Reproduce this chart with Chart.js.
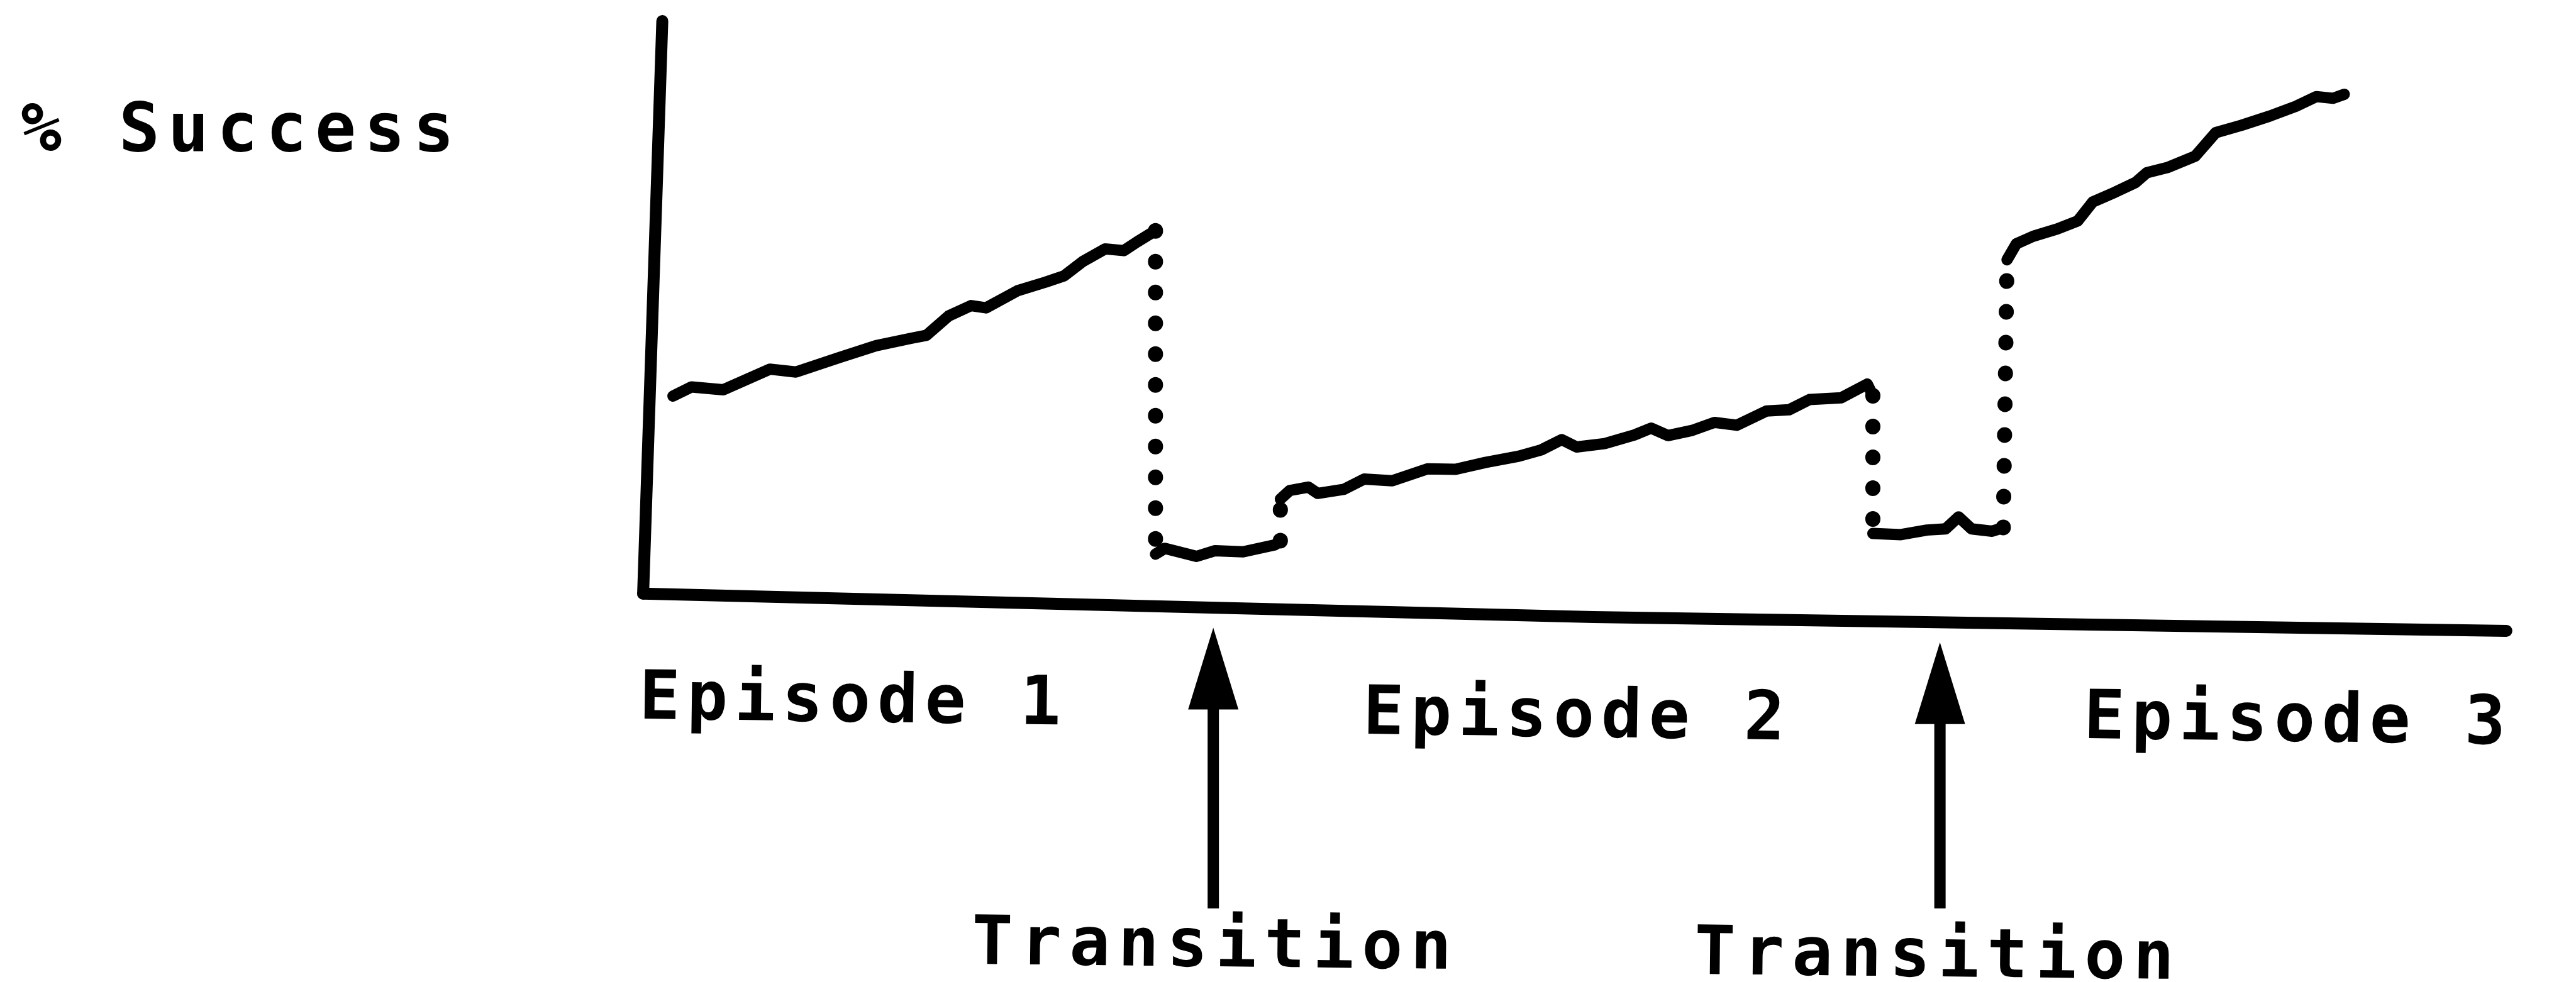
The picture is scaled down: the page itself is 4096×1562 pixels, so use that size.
<!DOCTYPE html>
<html>
<head>
<meta charset="utf-8">
<style>
  html, body { margin: 0; padding: 0; background: #fff; }
  canvas { display: block; }
</style>
</head>
<body>
<canvas id="exito" width="4096" height="1562"></canvas>
<script src="https://cdn.jsdelivr.net/npm/chart.js@4.4.0/dist/chart.umd.min.js"></script>
<script>
// x = trials along the axis (0-100), y = % success
const ep1Trial = [1.6, 2.6, 4.3, 6.8, 8.2, 10.5, 12.5, 14.4, 15.2, 16.4, 17.6, 18.4, 20.1, 21.6, 22.6, 23.6, 24.8, 25.8, 26.5, 27.5];
const ep1Success = [34.5, 36.1, 35.6, 39.2, 38.7, 41.2, 43.3, 44.6, 45.1, 48.5, 50.3, 49.9, 52.9, 54.4, 55.5, 58.0, 60.2, 59.9, 61.4, 63.4];

const trans1Trial = [27.5, 28.0, 29.7, 30.7, 32.2, 33.9, 34.2];
const trans1Success = [6.9, 7.9, 6.5, 7.5, 7.3, 8.5, 9.2];

const ep2Trial = [34.2, 34.7, 35.7, 36.2, 37.6, 38.7, 40.2, 42.1, 43.6, 45.2, 47.0, 48.2, 49.3, 50.1, 51.6, 53.2, 54.1, 55.0, 56.3, 57.5, 58.7, 60.3, 61.5, 62.6, 64.3, 65.7, 66.0];
const ep2Success = [16.5, 18.0, 18.6, 17.5, 18.2, 20.0, 19.7, 21.8, 21.7, 22.9, 24.0, 25.1, 26.9, 25.6, 26.2, 27.7, 28.9, 27.6, 28.5, 29.9, 29.4, 31.9, 32.1, 33.9, 34.2, 36.6, 34.6];

const trans2Trial = [66.0, 67.5, 68.9, 69.9, 70.6, 71.3, 72.4, 73.0];
const trans2Success = [10.5, 10.3, 11.1, 11.3, 13.4, 11.3, 10.9, 11.5];

const ep3Trial = [73.2, 73.7, 74.6, 75.9, 77.0, 77.8, 79.0, 80.1, 80.7, 81.8, 83.3, 84.4, 85.8, 87.3, 88.7, 89.8, 90.7, 91.3];
const ep3Success = [58.3, 61.1, 62.4, 63.7, 65.1, 68.4, 70.1, 71.8, 73.5, 74.4, 76.4, 80.5, 81.8, 83.4, 85.1, 86.8, 86.5, 87.2];

// hand drawn axes, a little off square
const axisXTrial = [0, 51, 100];
const axisXLevel = [0, -4.1, -6.5];
const axisYTrial = [0, 1.03];
const axisYLevel = [0, 100];

const yLabel = '% Success';
const episodeLabels = ['Episode 1', 'Episode 2', 'Episode 3'];
const transitionLabel = 'Transition';
const transitionTrials = [30.6, 69.6];

function puntos(xs, ys) {
    return xs.map((x, i) => ({ x: x, y: ys[i] }));
}

const tramos = [
    puntos(ep1Trial, ep1Success),
    puntos(trans1Trial, trans1Success),
    puntos(ep2Trial, ep2Success),
    puntos(trans2Trial, trans2Success),
    puntos(ep3Trial, ep3Success)
];

const trazo = {
    borderColor: '#000',
    backgroundColor: '#000',
    borderWidth: 18,
    borderCapStyle: 'round',
    borderJoinStyle: 'round',
    pointRadius: 0,
    fill: false,
    clip: false
};

let datasets = [];
datasets.push(Object.assign({ data: puntos(axisXTrial, axisXLevel), borderWidth: 19 }, trazo, { borderWidth: 19 }));
datasets.push(Object.assign({}, trazo, { data: puntos(axisYTrial, axisYLevel), borderWidth: 19 }));
tramos.forEach(t => datasets.push(Object.assign({}, trazo, { data: t })));
// dotted jumps between one stretch and the next
for (let i = 0; i < tramos.length - 1; i++) {
    const a = tramos[i][tramos[i].length - 1];
    const b = tramos[i + 1][0];
    datasets.push(Object.assign({}, trazo, { data: [a, b], borderWidth: 24, borderDash: [1, 48] }));
}

function nivelEje(t) {
    for (let i = 0; i < axisXTrial.length - 1; i++) {
        if (t <= axisXTrial[i + 1]) {
            const f = (t - axisXTrial[i]) / (axisXTrial[i + 1] - axisXTrial[i]);
            return axisXLevel[i] + f * (axisXLevel[i + 1] - axisXLevel[i]);
        }
    }
    return axisXLevel[axisXLevel.length - 1];
}

function espaciado(ctx, texto, x, y, paso) {
    for (let i = 0; i < texto.length; i++) {
        ctx.fillText(texto[i], x + i * paso, y);
    }
}

const rotulos = {
    id: 'rotulos',
    afterDraw(chart) {
        const ctx = chart.ctx;
        const xs = chart.scales.x;
        const ys = chart.scales.y;
        ctx.save();
        ctx.fillStyle = '#000';
        ctx.font = 'bold 108px "DejaVu Sans Mono"';
        ctx.textAlign = 'left';
        ctx.textBaseline = 'alphabetic';

        espaciado(ctx, yLabel, 33, 240, 78);

        const posEpisodio = [[1016, 1143], [2167, 1167], [3313, 1174]];
        episodeLabels.forEach((txt, i) => {
            ctx.save();
            ctx.translate(posEpisodio[i][0], posEpisodio[i][1]);
            ctx.rotate(0.8 * Math.PI / 180);
            espaciado(ctx, txt, 0, 0, 75.7);
            ctx.restore();
        });

        const posTransicion = [[1545, 1533], [2694, 1549]];
        posTransicion.forEach(p => {
            ctx.save();
            ctx.translate(p[0], p[1]);
            ctx.rotate(0.6 * Math.PI / 180);
            espaciado(ctx, transitionLabel, 0, 0, 77.5);
            ctx.restore();
        });

        // arrows pointing up at each transition
        transitionTrials.forEach(t => {
            const x = xs.getPixelForValue(t);
            const punta = ys.getPixelForValue(nivelEje(t)) + 32;
            const base = punta + 130;
            ctx.beginPath();
            ctx.moveTo(x, punta);
            ctx.lineTo(x + 40, base);
            ctx.lineTo(x - 40, base);
            ctx.closePath();
            ctx.fill();
            ctx.fillRect(x - 9, base - 2, 18, 1447 - base);
        });
        ctx.restore();
    }
};

const lienzo = document.getElementById('exito').getContext('2d');

let graficaExito = new Chart(lienzo, {
    type: 'line',
    data: { datasets: datasets },
    options: {
        responsive: false,
        animation: false,
        layout: { padding: { left: 1022.6, right: 110.7, top: 33.4, bottom: 526.7 } },
        scales: {
            x: { type: 'linear', min: 0, max: 100, display: false },
            y: { type: 'linear', min: -10, max: 100, display: false }
        },
        plugins: {
            legend: { display: false },
            tooltip: { enabled: false }
        }
    },
    plugins: [rotulos]
});
</script>
</body>
</html>
